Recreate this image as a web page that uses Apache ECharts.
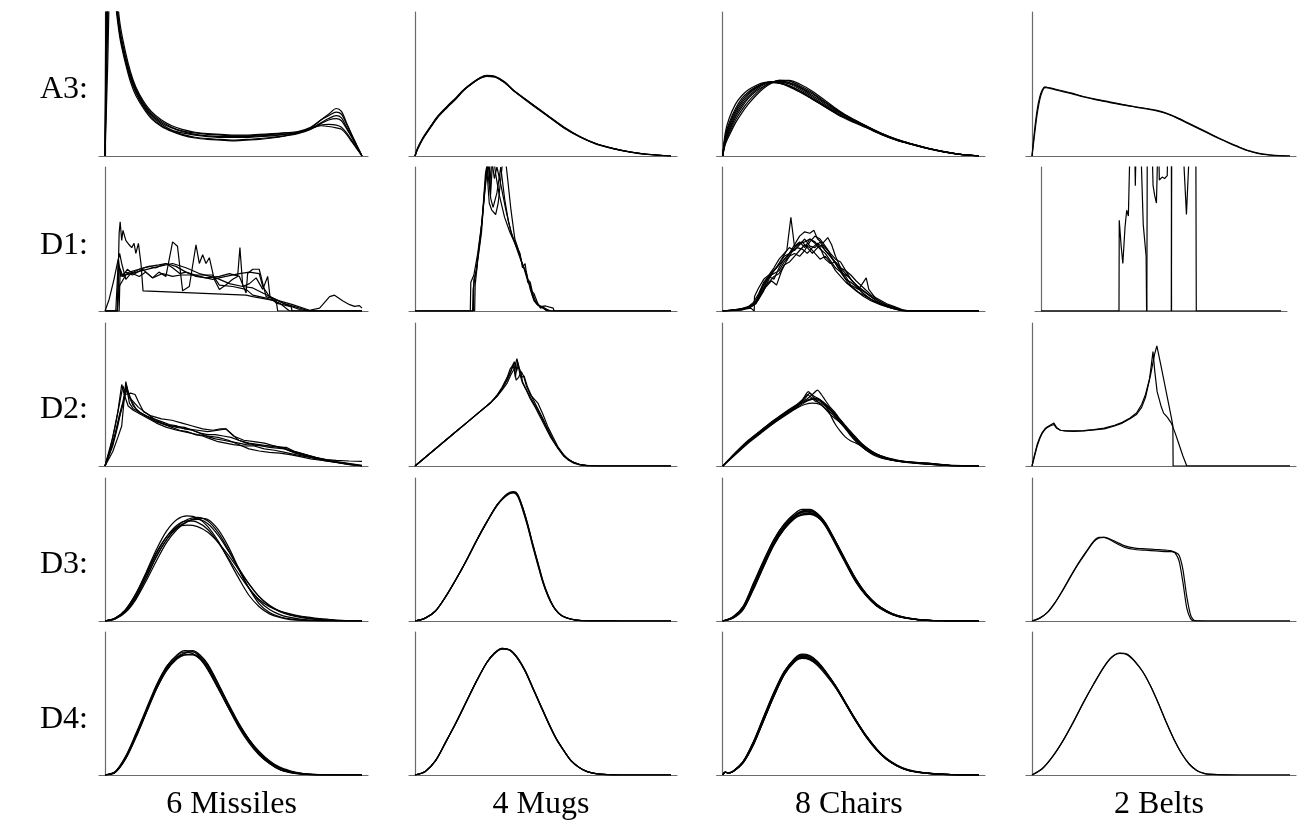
<!DOCTYPE html>
<html><head><meta charset="utf-8">
<script src="https://cdn.jsdelivr.net/npm/echarts@6/dist/echarts.min.js"></script>
<style>html,body{margin:0;padding:0;background:#fff}#c{width:1299px;height:826px}</style>
</head><body><div id="c"></div>
<script>
// ---------- labels ----------
const rowLabels = ['A3:', 'D1:', 'D2:', 'D3:', 'D4:'];
const colLabels = ['6 Missiles', '4 Mugs', '8 Chairs', '2 Belts'];

// ---------- A3 row (shared x per panel, y in % of panel height) ----------
const a3MissilesX = [0,1,2,3,4,5,6,8,10,12,15,18,22,26,30,35,40,45,50,55,60,65,70,75,80,84,87,90,92,94,96,98,100];
const a3MissilesY = [
  [0,60,130,140,125,105,90,72,58,48,38,31,25,21,18.5,16.5,15.5,15,14.5,14.5,15,15.5,16,16.5,19.5,25,29,33,31,23,15,7.5,0],
  [0,90,140,135,115,98,85,68,55,46,36,29,23,19.5,17,15,14,13.5,13.5,13.5,14,14.5,15,16,19,23,26,28,26.5,20,13.5,6.5,0],
  [0,100,150,130,110,95,82,66,53,44,34,27,21,17.5,15,13,12,11.5,11,11.5,12,13,14,15.5,18.5,22.5,25,26,24.5,19,13,6.5,0],
  [0,120,145,128,108,92,80,64,51,42,33,26,20.5,17,14.5,12.5,11.5,11,10.5,11,11.5,12.5,14,16,19,21.5,22,21.5,20,16,11,5.5,0],
  [0,140,150,132,112,96,83,67,54,45,35,28,22,18,16,14.5,13.5,13,13,13,13.5,14,15,16.5,19,21,20.5,19.5,18.5,15,10,5,0],
  [0,200,160,135,114,98,85,69,56,47,37,30,24,20,17.5,16,15,14.5,14,14,14.5,15,16,17,20,25,28,30.5,29,22,14.5,7,0]
];
const a3MugsX = [0,1,3,6,9,12.5,16,19,22.5,25.5,28,31,35,38.5,45,51.6,58,64.6,71,77.6,84,90.6,100];
const a3MugsY = [
  [0,5,12,20,27.5,34,40,45.7,50.5,54,55.5,55,51,45.7,37,28.3,20,13.2,8.3,5.1,2.8,1.2,0],
  [0,5.5,12.5,20.5,28,34.5,40.5,46,51,54.5,56,55.5,51.5,45.5,36.5,28,19.7,13,8.1,5,2.7,1.1,0],
  [0,4.5,11.5,19.5,27,33.5,39.5,45.5,50.5,54,55.3,55,51,45.3,37,28.5,20.3,13.4,8.4,5.2,2.9,1.2,0],
  [0,5,12,20,27.5,34,40,45.8,50.8,54.3,55.8,55.2,51.2,45.5,36.8,28.2,20,13.2,8.3,5.1,2.8,1.2,0]
];
const a3ChairsX = [0,1,2.5,5,7.5,10,13,16,19,22,26,30,35,40,45,50,56,62,68,74,80,86,92,100];
const a3ChairsY = [
  [0,16,26,36,42,46,49,51,51.5,50.5,48,44.5,39.5,34,29,24.8,20,15,11,8,5.2,3,1.3,0],
  [0,14,23,33,40,44.5,48,50.5,51.5,51,49,45.5,40,34.5,29.5,25,20.2,15.2,11.2,8.1,5.3,3,1.3,0],
  [0,12,20,30,37,42.5,47,50,51.5,51.5,50,46.5,41,35,29.5,25,20,15,11,8,5.2,3,1.3,0],
  [0,8,14,23,30,36,42,47,50.5,52.5,52.5,50,45,38.5,32,26.5,21,15.8,11.5,8.3,5.5,3.2,1.4,0],
  [0,10,17,27,34,40,45,48.5,51,52,51,48,43,37,31,26,20.8,15.6,11.4,8.2,5.4,3.1,1.4,0],
  [0,13,21.5,31.5,38.5,43.5,47.5,50,51,50.5,48.5,45,39.5,34,28.5,24.2,19.6,14.8,10.8,7.8,5.1,2.9,1.2,0],
  [0,11,18.5,28.5,35.5,41,46,49.5,51.5,51.5,50.5,47.5,42,36,30.5,25.8,20.5,15.4,11.2,8.1,5.3,3,1.3,0],
  [0,9,15.5,25,32,38,43.5,48,51,52.5,52,49,44,37.5,31.5,26.2,20.8,15.6,11.4,8.2,5.4,3.1,1.4,0]
];
const a3BeltsX = [0,1,2,3,4,5,7,10,15,20,25,30,35,40,45,48,52,56,60,64,68,72,76,80,84,88,92,96,100];
const a3BeltsY = [
  [0,18,32,41,46,48,47,45.5,43.5,41,39,37.3,35.5,34,32.5,31.5,29.5,26.5,23,19.5,16,12.5,9.3,6.2,3.5,1.7,0.7,0.2,0],
  [0,15,29,39,45,47.5,47.3,46,43.8,41.3,39.3,37.6,35.8,34.2,32.8,31.8,29.8,26.8,23.4,19.9,16.4,12.9,9.6,6.5,3.7,1.8,0.8,0.2,0]
];

// ---------- D1 row ([x, y] points per line) ----------
const d1Missiles = [
  [[0,0],[4.8,0],[5.5,54],[5.9,62],[6.5,49],[7,56],[8.1,49],[9.4,46],[10.4,44],[11.3,47],[12,40],[13,47],[14,33],[14.8,14],[54.9,11],[57.5,10],[66.6,7],[67.2,0],[100,0]],
  [[0,0],[4.8,0],[5.5,31],[6.8,24],[8.7,29],[10.7,26],[13.3,24],[15.9,27],[18.5,23],[21,27],[23.7,24],[26.3,48],[28.2,45],[30.2,14],[32.8,17],[35.4,46],[36.7,33],[38,39],[39.3,33],[40.6,37],[42.5,22],[44.5,15],[47,18],[49.7,22],[51.6,24],[52.5,44],[53.6,17],[56.2,19],[58.8,23],[61.4,15],[63.3,24],[64.2,10],[66.6,5.5],[72.4,3],[72.8,0],[100,0]],
  [[0,0],[1.6,8],[3.5,22],[4.8,33],[5.7,40],[6.5,33],[8.1,22],[10,26],[13.3,29],[17.2,31],[21,32],[23.7,33],[27.6,31],[31.5,27],[36.7,24],[41.9,22],[47,24],[52.3,26],[56.2,27],[60,26],[61.4,17],[64,10],[69.2,5.5],[75.7,2],[79.6,0],[100,0]],
  [[0,0],[4.2,0],[5.2,36],[6.1,24],[8.1,27],[10.7,25],[14.6,29],[18.5,23],[22.4,26],[26.3,24],[29.5,25],[41.9,25],[44.5,18],[49.7,17],[54.9,15],[57.5,11],[62.7,9],[67.9,5.5],[71.8,0],[100,0]],
  [[0,0],[5.5,0],[5.9,29],[7,24],[9.4,27],[13.3,29],[17.2,31],[19.8,30],[23.7,33],[26.3,30],[29.1,26],[31.5,27],[35.4,24],[39.3,23],[44.5,24],[48.4,26],[52.3,24],[54.9,12.5],[55.5,26],[57.5,29],[60,29],[61.4,19],[62.7,10],[67.9,7],[73,4.4],[79.6,0.5],[83.5,2],[87.4,10],[89.3,11],[92.6,7],[95.2,4.4],[97.1,3.2],[99,3.7],[100,2]],
  [[0,0],[4.8,0],[5.5,17],[8.1,25],[13.3,27.5],[21,31],[26.3,33],[31.5,30],[36.7,26],[43.2,23],[48.4,19],[53.6,17],[57.5,16],[61.4,12.5],[66.6,8],[70.5,4.4],[75.7,1],[79.6,0],[100,0]]
];
const d1Mugs = [
  [[0,0],[21.6,0],[21.8,20],[23,25],[24.5,40],[26,60],[27,78],[28,95],[28.8,110],[29.5,80],[30.5,110],[31.5,95],[33,80],[35,65],[37,55],[39,47],[41,37],[42.5,30],[43.5,24],[44.5,20],[45.5,14],[46.5,12],[48,5],[49,2],[50,3],[51,1],[52,0],[100,0]],
  [[0,0],[22.5,0],[22.7,15],[24,30],[25.5,50],[26.5,70],[27.5,95],[28.5,105],[29.2,88],[30,105],[31,92],[32,100],[33.5,88],[35.5,70],[37.5,55],[39.5,45],[41,40],[42,30],[43,33],[44,20],[45,18],[46,10],[47.5,5],[49,3],[51,3.5],[54,2],[54.3,0],[100,0]],
  [[0,0],[23.3,0],[23.5,18],[24.5,35],[26,55],[27,80],[28,100],[29,75],[30,70],[31.5,67],[32.5,75],[34,100],[35,110],[36,95],[37.5,70],[39,50],[40.5,42],[42,32],[43.5,27],[45,15],[46.5,7],[48,4],[50,2],[51.5,0],[100,0]],
  [[0,0],[22.8,0],[23,22],[24,28],[25,45],[26.2,62],[27.3,85],[28.2,100],[29.6,78],[30.5,72],[32,82],[33.5,100],[35,78],[36.5,62],[38,52],[40,44],[41.5,35],[43,28],[44,22],[45,20],[46,12],[47,7],[48.5,4],[50.5,2],[53,0],[100,0]]
];
const d1Chairs = [
  [[0,0],[5,1],[10,2],[13,5],[15,12],[17,20],[19,27],[21,30],[23,36],[25,42],[26.6,65],[28,45],[30,48],[32,44],[34,50],[36,47],[38,43],[40,40],[42,35],[44,30],[46,27],[48,22],[50,20],[52,17],[55,12],[58,8],[61,5],[64,3],[67,1.5],[70,0],[100,0]],
  [[0,0],[4,0.5],[8,1.5],[12,4],[14,8],[16,14],[18,22],[20,28],[22,33],[24,38],[26,40],[28,46],[30,52],[32,55],[34,54],[35.6,56],[37,50],[39,47],[41,51],[42.5,46],[44,38],[46,30],[48,26],[50,22],[52,18],[54,14],[56,10],[58,8],[60,6],[63,4],[66,2],[70,0.5],[72,0],[100,0]],
  [[0,0],[6,0.5],[11,2],[12.3,0],[12.4,10],[14,16],[16,22],[18,25],[20,30],[22,36],[24,40],[26,44],[28,42],[30,46],[32,50],[34,45],[36,44],[38,48],[40,42],[42,38],[44,33],[46,28],[48,24],[50,18],[53,15],[56,23],[57,15],[60,8],[63,5],[66,3],[69,1],[72,0],[100,0]],
  [[0,0],[8,1],[12,4],[14,10],[16,18],[18,24],[20,26],[22,28],[24,34],[26,38],[28,40],[30,38],[32,42],[34,48],[36,52],[38,50],[40,45],[42,40],[44,36],[46,34],[48,28],[50,22],[52,18],[55,14],[58,10],[61,7],[64,4],[67,2],[70,0.5],[72,0],[100,0]],
  [[0,0],[7,1],[11,3],[13,7],[15,15],[17,22],[19,26],[21,30],[23,34],[25,37],[27,42],[29,46],[31,48],[33,44],[35,40],[37,44],[39,46],[41,42],[43,36],[45,32],[47,26],[49,24],[51,20],[54,15],[57,11],[60,7],[63,4],[66,2],[69,1],[71,0],[100,0]],
  [[0,0],[6,1],[10,3],[12,6],[14,12],[16,20],[18,24],[20,22],[22,30],[24,36],[26,40],[28,44],[30,47],[32,48],[34,50],[36,48],[38,44],[40,36],[42,33],[44,34],[46,30],[48,28],[50,25],[52,21],[55,16],[58,11],[61,8],[64,5],[67,3],[70,1],[73,0],[100,0]],
  [[0,0],[5,1],[9,2],[12,5],[14,9],[16,16],[18,20],[20,24],[22,26],[24,32],[26,34],[28,38],[30,42],[32,46],[34,44],[36,40],[38,36],[40,38],[42,34],[44,28],[46,24],[48,20],[50,17],[52,14],[55,10],[58,7],[62,4],[66,2],[69,0.5],[71,0],[100,0]],
  [[0,0],[4,0.5],[8,1],[11,3],[13,6],[15,12],[17,17],[19,21],[21,18],[23,28],[25,35],[27,41],[29,44],[31,43],[33,40],[35,44],[37,47],[39,44],[41,40],[43,36],[45,30],[47,25],[49,19],[51,16],[53,13],[56,10],[59,7],[62,5],[65,3],[68,1.5],[71,0],[100,0]]
];
const d1Belts = [
  [[0,0],[32.5,0],[32.6,63],[33.4,45],[34.1,33],[35,58],[35.7,70],[36.4,66],[37.3,130],[38.9,130],[39.3,87],[39.8,130],[41.3,130],[42.6,60],[43.8,38],[44,0],[54.3,0],[54.5,130],[58.7,130],[60.6,67],[62.3,130],[64.5,130],[64.7,0],[100,0]],
  [[0,0],[44.1,0],[44.3,130],[46,130],[46.7,87],[47.4,80],[48.1,75],[48.9,130],[49.3,91],[50.5,93],[51.5,92],[52.6,94],[53,130],[54.3,130],[54.4,0],[100,0]]
];

// ---------- D2 row ----------
const d2Missiles = [
  [[0,0],[3,20],[5,38],[6.5,57],[7.5,50],[9,42],[11,39],[14,36],[17,33],[20,30],[24,27],[28,25],[32,23.5],[36,22],[40,21],[44,20],[48,18],[52,15],[56,12],[60,10.5],[64,9.5],[68,9],[72,8],[76,6.5],[80,5],[84,4],[88,3],[92,2],[96,1],[100,0]],
  [[0,0],[3,10],[5,20],[6.5,28],[8.1,59],[9,52],[10.5,45],[12,40],[14,37],[17,34],[20,31],[24,29],[28,27],[32,26],[36,25],[40,24],[44,25],[47,26],[49,23],[52,18],[56,16],[60,15],[64,14],[68,13],[70.5,13],[74,10],[78,8],[82,6],[86,4.5],[90,3],[94,2],[100,0.5]],
  [[0,0],[2,12],[4,28],[6,47],[7,56],[8,50],[10,51],[11.7,50],[13,45],[15,38],[18,35],[22,33],[26,32],[30,30],[34,28],[38,26],[42,25],[45,26],[47,26],[50,21],[54,18],[58,17],[62,16],[66,14],[70,12],[74,9],[78,7],[82,5],[86,3.5],[90,2.5],[95,1],[100,0]],
  [[0,0],[3,16],[5,30],[6.5,40],[7.5,47],[8.5,54],[9.5,44],[11,40],[14,37],[17,34],[20,31],[23,29],[26,27],[29,25],[32,24],[35,22],[38,21],[41,19],[44,17],[47,16],[50,15],[54,14],[58,14],[62,12],[66,11],[70,9.5],[74,8],[78,6.5],[82,5.5],[86,4.5],[90,4],[95,3.5],[100,3.3]],
  [[0,0],[2,10],[4,22],[5.5,35],[7,45],[8.2,57],[9.5,48],[11,42],[13,38],[16,35],[19,33],[22,31],[25,29],[28,28],[31,26],[34,25],[37,23],[40,22],[43,22],[46,21],[49,20],[52,18],[55,16],[58,15],[62,14],[66,14],[69,13],[72,11],[76,9],[80,7],[84,5],[88,3.5],[92,2],[96,1],[100,0.3]],
  [[0,0],[3,14],[5,28],[6,37],[7.5,48],[8.5,55],[9.5,48],[11,45],[13,41],[16,37],[19,33],[22,30],[25,28],[28,27.5],[31,27],[34,25],[37,23],[40,20.5],[43,19],[46,18],[49,17],[52,16],[55,15],[58,14.5],[61,14],[64,13],[67,12.5],[70,12],[73,10],[77,8],[81,6],[85,4.5],[89,3],[93,2],[97,1],[100,0]]
];
const d2Mugs = [
  [[0,0],[5,7.5],[10,15],[15,22.5],[20,30],[25,37.5],[29.4,44],[32,49],[34,54],[36,60],[37.5,66],[38.5,72],[39.2,62],[40,73],[41,64],[42,58],[43.5,53],[45,47],[47,41],[49,34],[51,27],[53,20],[55,14.5],[57,10],[59,6],[61,3.5],[63,1.8],[65,0.8],[68,0.2],[72,0],[100,0]],
  [[0,0],[5,7.5],[10,15],[15,22.5],[20,30],[25,37.5],[29.4,44],[32,49.5],[34,55],[36,62],[37.2,68],[38,70],[38.8,68],[39.8,75],[40.8,68],[41.8,62],[42.6,63],[44,55],[46,47],[48,40],[50,33],[52,25],[54,18],[56,12],[58,7.5],[60,4.5],[62,2.5],[64,1.2],[67,0.3],[72,0],[100,0]],
  [[0,0],[5,7.5],[10,15],[15,22.5],[20,30],[25,37.5],[29.4,44],[32,48.5],[34,53],[36,58],[37.5,64],[38.8,68],[39.5,60],[40.5,62],[41.5,66],[42.4,63],[43.5,56],[45,50],[46.5,47],[48,44],[50,36],[52,27],[54,20],[56,13],[58,8],[60,4.5],[62,2.5],[64,1.2],[67,0.3],[72,0],[100,0]],
  [[0,0],[5,7.5],[10,15],[15,22.5],[20,30],[25,37.5],[29.4,44],[32,49],[34,54],[36,61],[37.8,68],[38.8,73],[39.6,66],[40.3,70],[41.2,66],[42,59],[43,55],[44.5,50],[46,45],[48,39],[50,32],[52,25],[54,18],[56,12],[58,7],[60,4],[62,2],[64,1],[67,0.3],[72,0],[100,0]]
];
const d2Chairs = [
  [[0,0],[5,9],[10,17],[15,24],[20,31],[25,37],[30,43],[33.4,52],[35,49],[37,45],[39,42],[41,39],[43,36],[45,32],[47,28],[49,24],[51,20],[53,17],[55,13.5],[58,10],[62,7],[66,4.5],[70,3.2],[75,2.2],[80,1.5],[85,0.8],[90,0.3],[100,0]],
  [[0,0],[5,9.5],[10,18],[15,25],[20,32],[25,38.5],[30,44],[33,47],[35,50],[37,53],[38.5,50],[40,46],[42,41],[44,37],[46,32],[48,27],[50,22],[52,18],[54,14],[57,10],[60,7.5],[64,5],[68,3.5],[73,2.5],[78,1.8],[82,1.2],[86,0.6],[90,0.2],[100,0]],
  [[0,0],[5,8.5],[10,16.5],[15,23.5],[20,30],[25,36],[29,40.5],[32,43],[35,44],[38,43],[40,40],[42,36],[44,33],[46,30],[48,26],[50,22],[52,18],[54,15],[56,12],[59,9],[62,6.5],[66,4.5],[70,3],[75,2],[80,1.3],[85,0.7],[90,0.3],[100,0]],
  [[0,0],[5,9],[10,17.5],[15,24.5],[20,31],[25,37],[29,42],[32,47],[34,51],[35.5,49],[37.5,47],[39.5,44],[41,40],[42.5,34],[44,29],[46,24],[48,20],[50,17.5],[52,16],[54,14],[56,11],[59,7.5],[62,5.5],[66,4],[70,3],[75,2.5],[80,2],[85,1],[90,0.3],[100,0]],
  [[0,0],[5,8],[10,16],[15,23],[20,30],[25,36.5],[30,42],[33,45.5],[36,47],[38,46],[40,43],[42,39],[44,35],[46,31],[48,27],[50,23],[52,19.5],[54,16],[56,13],[59,9.5],[62,7],[66,5],[70,3.5],[75,2.3],[80,1.5],[85,0.8],[90,0.3],[100,0]],
  [[0,0],[5,9],[10,17],[15,24.5],[20,31.5],[25,38],[29,42],[31,44],[33,46],[35,46.5],[37,46],[39,44],[41,41],[43,37.5],[45,34],[47,30],[49,26],[51,22],[53,18],[55,14.5],[58,10.5],[61,7.5],[65,5],[69,3.5],[74,2.6],[79,2],[84,1.2],[88,0.5],[92,0.1],[100,0]],
  [[0,0],[5,8.8],[10,17],[15,24],[20,31],[25,37.5],[29,43],[31.5,47],[33,50],[34.5,48],[36,45.5],[38,44],[40,42],[42,39],[44,36],[46,31],[48,26],[50,21],[52,17],[54,14],[56,11.5],[59,8.5],[62,6],[66,4],[70,2.8],[75,2],[80,1.3],[85,0.7],[90,0.2],[100,0]],
  [[0,0],[5,9.2],[10,17.5],[15,25],[20,32],[25,38],[30,43.5],[33,46],[35,47.5],[37,47],[39,45],[41,42],[43,38],[45,34],[47,30],[49,25],[51,20.5],[53,16.5],[55,13],[58,9.5],[61,7],[65,5],[69,3.6],[74,2.7],[78,2.2],[82,1.6],[86,1],[90,0.4],[100,0]]
];
const d2Belts = [
  [[0,0],[1,8],[2,15],[3,20],[4,23.5],[5,26],[6,27.5],[7,28.5],[8.5,30],[9.5,27],[11,25],[13,24.5],[16,24.2],[20,24.5],[24,25.2],[28,26],[32,28],[35,30],[38,33],[40.5,36],[42.5,41],[44,48],[45.5,60],[46.9,80],[47.6,66],[48.5,52],[50,42],[51,37],[52.5,34],[54,30],[55.5,23],[57,15],[58.5,7],[60,0],[100,0]],
  [[0,0],[1,7],[2,14],[3,19],[4,23],[5,25.5],[6,27],[7,28],[8.5,29],[9.5,26.5],[11,25],[13,24.6],[16,24.5],[20,24.8],[24,25.5],[28,26.5],[32,28.5],[35,30.5],[38,33.5],[40.5,37],[42.5,43],[44,50],[46,64],[47.5,78],[48.4,84],[50,70],[52,52],[54,34],[54.6,28],[54.7,0],[100,0]]
];

// ---------- D3 row ----------
const d3MissilesX = [0,4,8,12,16,20,24,28,32,36,40,44,48,52,56,60,64,68,72,76,80,84,88,92,96,100];
const d3MissilesY = [
  [0,2,8,19,34,50,63,71,73.5,72,66,56,43,30,18,10,5,2.5,1,0.5,0.2,0.1,0,0,0,0],
  [0,1.5,6,15,28,42,55,64,69.5,72,71,64,52,37,23,12,6,3,1.5,0.6,0.2,0.1,0,0,0,0],
  [0,2,7.5,17.5,32,47,59,67,70,69,64,55,44,33,23,15,10,7,5,3.5,2.5,1.6,1,0.5,0.2,0],
  [0,2,8,19,33,48,59,65.5,67,66,62,55,46,36,26,17,11,7,4.5,3,1.8,1,0.5,0.2,0.1,0],
  [0,1.8,7,16.5,30,45,57,66,71,72.5,70,62,50,36,23,14,8,4.5,2.5,1.3,0.6,0.2,0.1,0,0,0],
  [0,1.5,6.5,16,30,45,57,65,69.5,71,68,60,49,37,26,17,10.5,6.5,4,2.5,1.5,0.8,0.4,0.2,0,0]
];
const d3MugsX = [0,4,8,12,16,20,24,28,32,35,37,38.5,40,42,44,46,48,50,52,54,56,58,61,64,70,80,100];
const d3MugsY = [
  [0,2,7,17,29,42,56,69,81,87,89.5,90,88,78,66,52,39,26.5,17,10,5.5,3,1.2,0.4,0.1,0,0],
  [0,2,7,17,29,42,56,69,81,87.5,90,90.5,89,80,68,54,41,28,18,10.5,5.8,3.2,1.3,0.4,0.1,0,0],
  [0,2,7,17.2,29.3,42.3,56.3,69.3,81,86.5,89,89.5,87.5,79,67,53,40,27,17.5,10.2,5.6,3.1,1.2,0.4,0.1,0,0],
  [0,2,7,17,29,42,56,69,80.5,86.8,89.5,90,88.5,79.5,67.5,53.5,40.5,27.5,17.8,10.3,5.7,3.1,1.3,0.4,0.1,0,0]
];
const d3ChairsX = [0,4,8,12,16,20,24,28,31,34,37,40,44,48,52,56,60,64,68,72,76,80,86,92,100];
const d3ChairsY = [
  [0,2.8,10,26,42,57,68,75,78,78,75,69,56,42,28.5,18.5,11,6.5,3.5,2,1,0.5,0.2,0,0],
  [0,2.2,8.5,23,39,54,65,72,75,75.5,73.5,68,56,42.5,29.5,19,11.5,7,3.8,2.1,1,0.5,0.2,0,0],
  [0,2.5,9,24,40,55,66,73,76,76.5,74,68,55,41,28,18,11,6.5,3.5,2,1,0.5,0.2,0,0],
  [0,2,8,22,38,53,64,71.5,74.5,75,73,67.5,55.5,42,29,19,11.8,7,3.9,2.2,1.1,0.5,0.2,0,0],
  [0,3,10.5,26.5,42.5,57,67.5,74,76.5,76,73,66.5,53.5,40,27,17.5,10.5,6.2,3.3,1.8,0.9,0.4,0.1,0,0],
  [0,2.3,8.8,23.5,39.5,54.5,65.5,73,76.5,77,74.5,68.5,55.5,41.5,28.5,18.2,11.2,6.6,3.6,2,1,0.5,0.2,0,0],
  [0,2.6,9.3,24.5,40.5,55.5,66.5,73.5,77,77.5,75,68.5,55,40.5,27.5,17.8,10.8,6.4,3.4,1.9,0.9,0.4,0.1,0,0],
  [0,2.1,8.2,22.5,38.5,53.5,64.5,72,74,74.5,72.5,67,55,42,29.2,19.2,12,7.2,4,2.2,1.1,0.5,0.2,0,0]
];
const d3BeltsX = [0,3,6,9,12,15,18,21,24,26,28,30,33,36,40,44,48,52,54,55.5,57,58.5,60,61.5,63,70,80,100];
const d3BeltsY = [
  [0,2,6,13,21.5,31,40,48,55.5,58,58.5,57.5,55,52.5,51,50.5,50,49.5,49,47.5,42,27,9,1.5,0,0,0,0],
  [0,2,6,13,22,31.5,40.5,48.5,56,58.5,58.5,57,54,51.5,50,49.5,49,48.5,48.5,48,46,36,17,4,0.3,0,0,0]
];

// ---------- D4 row ----------
const d4MissilesX = [0,4,8,12,16,20,24,28,31,34,37,40,44,48,52,56,60,64,68,72,76,80,86,92,100];
const d4MissilesY = [
  [0,2.2,12.5,28,45,62,76,84,87,86.5,82.5,75,61.5,47,33.5,22.5,14,8,3.8,1.8,0.7,0.3,0.1,0,0],
  [0,1.8,11,26,43,60,73.5,82,85,86,83.5,77,64,50,36.5,25,15.5,8.5,4,1.9,0.8,0.3,0.1,0,0],
  [0,2,12,27,44,61,74.5,82,84,84,81,74,61,47.5,35,25,16.5,10,5.5,3,1.4,0.6,0.2,0,0],
  [0,2.4,13,29,46,63,76,83.5,86,85,81,73.5,60.5,47,34.5,24,15.5,9,4.8,2.4,1.1,0.5,0.1,0,0],
  [0,1.9,11.5,26.5,43.5,60,73,81,84,84.5,82,76,63,49,36,25,16,9.5,5,2.5,1.1,0.4,0.1,0,0],
  [0,2.1,12.2,27.5,44.5,61.5,75,82.5,85.5,87,84,77.5,64,49,35,23.5,14.5,8,3.7,1.7,0.7,0.3,0.1,0,0]
];
const d4MugsX = [0,4,8,12,16,20,24,28,31,34,37,40,43,46,49,52,55,58,61,64,67,70,75,80,100];
const d4MugsY = [
  [0,2.5,10,23,36.5,51,65.5,78.5,85,88.3,87.5,82,73,61,49,37,26,17.5,10,5.5,2.5,1.2,0.3,0,0],
  [0,2.5,10,23,36.5,51,65.5,78.5,85.3,88.5,87.2,81.5,72.5,60.5,48.5,36.5,25.7,17.2,9.8,5.4,2.5,1.2,0.3,0,0],
  [0,2.4,9.8,22.8,36.3,50.8,65.3,78.3,84.8,88,87.3,81.8,72.8,60.8,48.8,36.8,25.8,17.3,9.9,5.4,2.5,1.2,0.3,0,0],
  [0,2.5,10.1,23.1,36.6,51.2,65.7,78.7,85.2,88.6,87.6,82.2,73.2,61.2,49.2,37.2,26.2,17.6,10.1,5.5,2.5,1.2,0.3,0,0]
];
const d4ChairsX = [0,1,2,4,8,12,16,20,24,28,31,34,37,40,44,48,52,56,60,64,68,72,76,80,86,92,100];
const d4ChairsY = [
  [0,2,1.5,2.5,9.5,23,40.5,57.5,72,81,84,83,79,72.5,62,49.5,37.5,26.5,17.5,10.8,6.3,3.4,2,1.2,0.5,0.1,0],
  [0,2,1.5,2.3,8.5,21,38,55,70,79,82,81.5,78,72.5,62.5,50.5,38.5,27.5,18.3,11.3,6.7,3.7,2.1,1.3,0.5,0.1,0],
  [0,2,1.5,2.5,9,22,39,56,71,80,83,82,78,72,62,50,38,27,18,11,6.5,3.5,2,1.2,0.5,0.1,0],
  [0,2,1.5,2.7,9.5,23.5,41,58,72.5,80.5,82.5,81,76.5,70.5,61,49.5,37.5,26.8,17.8,11,6.5,3.5,2,1.2,0.5,0.1,0],
  [0,2,1.5,2.4,8.8,21.5,38.5,55.5,70.5,79.5,82,81.5,78,72,62.5,50.5,38.5,27.5,18.5,11.5,7,3.9,2.3,1.4,0.6,0.1,0],
  [0,2,1.5,2.5,9.2,22.5,39.5,56.5,71.5,80.5,83.5,82.5,78.5,72,61.5,49.5,37.5,26.5,17.7,10.8,6.4,3.4,1.9,1.1,0.4,0.1,0],
  [0,2,1.5,2.5,8.7,21.3,38.2,55.2,70.2,79.2,81.5,80.5,77,71.5,62,50.2,38.3,27.3,18.3,11.2,6.7,3.6,2.1,1.3,0.5,0.1,0],
  [0,2,1.5,2.6,9.3,22.7,40,57,72,81.5,84.5,83.5,79.5,73,62.5,50,38,27,18,11,6.5,3.5,2,1.2,0.5,0.1,0]
];
const d4BeltsX = [0,4,8,12,16,20,24,28,31,34,37,40,43,46,49,52,55,58,61,64,67,70,75,80,100];
const d4BeltsY = [
  [0,4.5,13,24,37,51,64,76,82.5,85,84,79,72,62,50,37,25,15,7.5,3,1,0.4,0.1,0,0],
  [0,4.4,12.8,23.8,36.8,50.8,63.8,75.8,82.5,85.3,84.5,79.3,72,62,50,37,25,15,7.5,3,1,0.4,0.1,0,0]
];

// ---------- assemble ----------
function pairs(xs, ys) { return xs.map((x, i) => [x, ys[i]]); }
function fromGrid(xs, yss) { return yss.map(ys => pairs(xs, ys)); }

const panelLines = [
  [fromGrid(a3MissilesX, a3MissilesY), fromGrid(a3MugsX, a3MugsY), fromGrid(a3ChairsX, a3ChairsY), fromGrid(a3BeltsX, a3BeltsY)],
  [d1Missiles, d1Mugs, d1Chairs, d1Belts],
  [d2Missiles, d2Mugs, d2Chairs, d2Belts],
  [fromGrid(d3MissilesX, d3MissilesY), fromGrid(d3MugsX, d3MugsY), fromGrid(d3ChairsX, d3ChairsY), fromGrid(d3BeltsX, d3BeltsY)],
  [fromGrid(d4MissilesX, d4MissilesY), fromGrid(d4MugsX, d4MugsY), fromGrid(d4ChairsX, d4ChairsY), fromGrid(d4BeltsX, d4BeltsY)]
];
const smoothing = [
  [0.3, 0.3, 0.3, 0.25],
  [0, 0, 0, 0],
  [0, 0, 0.2, 0],
  [0.3, 0.3, 0.3, 0.25],
  [0.3, 0.3, 0.3, 0.3]
];

// layout
const rowTop = [12, 167, 323, 478, 632];
const rowBottom = [156, 311, 466, 621, 775];
const rowLabelY = [87, 243, 407, 562, 717];
const colAxisX = [105, 415, 722.7, 1032];
const colDataW = [257, 256, 256.3, 258];
const PAD = 6;
const FONT = '32px "Liberation Serif", "Times New Roman", serif';

const grid = [], xAxis = [], yAxis = [], series = [], graphic = [];
let gi = 0;
for (let r = 0; r < 5; r++) {
  for (let c = 0; c < 4; c++) {
    let ax = colAxisX[c], w = colDataW[c];
    if (r === 1 && c === 3) { ax = 1041; w = 240; }
    const padU = PAD / w * 100;
    grid.push({ left: ax - PAD, top: rowTop[r], width: w + 2 * PAD, height: rowBottom[r] - rowTop[r], containLabel: false });
    const axisLine = { show: true, onZero: true, lineStyle: { color: '#6a6a6a', width: 1.2 } };
    xAxis.push({ type: 'value', gridIndex: gi, min: -padU, max: 100 + padU, axisLine, axisTick: { show: false }, axisLabel: { show: false }, splitLine: { show: false } });
    yAxis.push({ type: 'value', gridIndex: gi, min: 0, max: 100, axisLine, axisTick: { show: false }, axisLabel: { show: false }, splitLine: { show: false } });
    panelLines[r][c].forEach(line => {
      series.push({
        type: 'line', xAxisIndex: gi, yAxisIndex: gi, data: line,
        showSymbol: false, symbol: 'none', smooth: smoothing[r][c], clip: true, silent: true,
        lineStyle: { color: '#000', width: 1.2 }
      });
    });
    gi++;
  }
}
rowLabels.forEach((t, r) => {
  graphic.push({ type: 'text', left: 40, top: rowLabelY[r] - 13,
    style: { text: t, font: FONT, fill: '#000' } });
});
colLabels.forEach((t, c) => {
  const cx = colAxisX[c] + colDataW[c] / 2 - 2;
  graphic.push({ type: 'text', x: cx, y: 789,
    style: { text: t, font: FONT, fill: '#000', textAlign: 'center', align: 'center', textVerticalAlign: 'top', verticalAlign: 'top' } });
});

const chart = echarts.init(document.getElementById('c'), null, { renderer: 'canvas' });
chart.setOption({ animation: false, backgroundColor: '#fff', grid, xAxis, yAxis, series, graphic });
</script></body></html>
